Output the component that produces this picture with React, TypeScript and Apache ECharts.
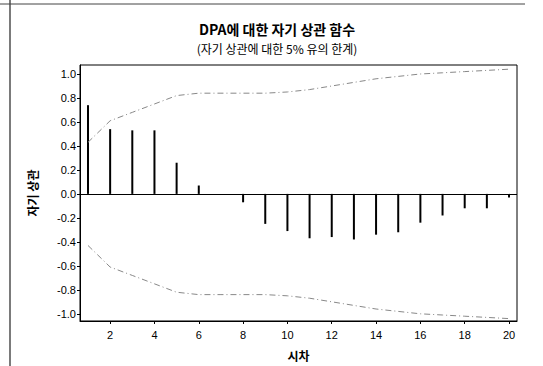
import React, { useEffect, useRef } from "react";
import * as echarts from "echarts";

const lags = [1, 2, 3, 4, 5, 6, 7, 8, 9, 10, 11, 12, 13, 14, 15, 16, 17, 18, 19, 20];
const acf = [0.74, 0.54, 0.53, 0.53, 0.26, 0.07, 0.0, -0.07, -0.25, -0.31, -0.37, -0.36, -0.38, -0.34, -0.32, -0.24, -0.18, -0.12, -0.12, -0.03];
const upperLimit = [0.43, 0.61, 0.68, 0.75, 0.82, 0.84, 0.84, 0.84, 0.84, 0.85, 0.87, 0.9, 0.93, 0.96, 0.98, 1.0, 1.01, 1.02, 1.03, 1.04];
const lowerLimit = [-0.43, -0.61, -0.68, -0.75, -0.82, -0.84, -0.84, -0.84, -0.84, -0.85, -0.87, -0.9, -0.93, -0.96, -0.98, -1.0, -1.01, -1.02, -1.03, -1.04];
const xTicks = [2, 4, 6, 8, 10, 12, 14, 16, 18, 20];
const yTicks = [-1.0, -0.8, -0.6, -0.4, -0.2, 0.0, 0.2, 0.4, 0.6, 0.8, 1.0];

const titleText = "DPA에 대한 자기 상관 함수";
const subTitleText = "(자기 상관에 대한 5% 유의 한계)";
const yName = "자기 상관";
const xName = "시차";

const numFont = "'Liberation Sans', Arial, sans-serif";
const krFont = "'Noto Sans CJK KR', 'Noto Sans', sans-serif";

export default function App() {
  const ref = useRef<HTMLDivElement>(null);
  useEffect(() => {
    if (!ref.current) return;
    const chart = echarts.init(ref.current, null, { renderer: "svg" });
    chart.setOption({
      animation: false,
      backgroundColor: "#ffffff",
      grid: {
        left: 80,
        right: 26,
        top: 65,
        bottom: 43,
        show: true,
        borderColor: "#000",
        borderWidth: 1,
        backgroundColor: "transparent",
      },
      graphic: [
        { type: "line", shape: { x1: 10, y1: 0, x2: 10, y2: 366 }, style: { stroke: "#222", lineWidth: 1.2 } },
        { type: "line", shape: { x1: 0, y1: 4, x2: 525, y2: 4 }, style: { stroke: "#444", lineWidth: 1 } },
        {
          type: "text",
          x: 277,
          y: 29,
          style: {
            text: titleText,
            fontFamily: krFont,
            fontWeight: "bold",
            fontSize: 14,
            fill: "#000",
            textAlign: "center",
            textVerticalAlign: "middle",
          },
        },
        {
          type: "text",
          x: 277,
          y: 48,
          style: {
            text: subTitleText,
            fontFamily: krFont,
            fontSize: 12,
            fill: "#000",
            textAlign: "center",
            textVerticalAlign: "middle",
          },
        },
      ],
      xAxis: {
        type: "value",
        min: 0.64,
        max: 20.36,
        name: xName,
        nameLocation: "middle",
        nameGap: 28,
        nameTextStyle: { fontFamily: krFont, fontWeight: "bold", fontSize: 12, color: "#000" },
        axisLine: { show: true, onZero: false, lineStyle: { color: "#000", width: 1 } },
        axisTick: { show: true, customValues: xTicks, length: 3, inside: false, lineStyle: { color: "#000" } },
        axisLabel: {
          customValues: xTicks,
          color: "#000",
          fontFamily: numFont,
          fontSize: 11,
          margin: 9,
        },
        splitLine: { show: false },
      },
      yAxis: {
        type: "value",
        min: -1.06,
        max: 1.075,
        name: yName,
        nameLocation: "middle",
        nameGap: 42,
        nameRotate: 90,
        nameTextStyle: { fontFamily: krFont, fontWeight: "bold", fontSize: 12, color: "#000" },
        axisLine: { show: true, onZero: false, lineStyle: { color: "#000", width: 1 } },
        axisTick: { show: true, customValues: yTicks, length: 3, inside: false, lineStyle: { color: "#000" } },
        axisLabel: {
          customValues: yTicks,
          color: "#000",
          fontFamily: numFont,
          fontSize: 11,
          margin: 4,
          formatter: (v: number) => v.toFixed(1),
        },
        splitLine: { show: false },
      },
      series: [
        {
          type: "bar",
          data: lags.map((l, i) => [l, acf[i]]),
          barWidth: 2,
          itemStyle: { color: "#000" },
          silent: true,
          markLine: {
            silent: true,
            symbol: "none",
            label: { show: false },
            lineStyle: { color: "#000", width: 1, type: "solid" },
            data: [{ yAxis: 0 }],
          },
        },
        {
          type: "line",
          data: lags.map((l, i) => [l, upperLimit[i]]),
          symbol: "none",
          silent: true,
          lineStyle: { color: "#888", width: 1, type: [6, 3, 1, 3] },
        },
        {
          type: "line",
          data: lags.map((l, i) => [l, lowerLimit[i]]),
          symbol: "none",
          silent: true,
          lineStyle: { color: "#888", width: 1, type: [6, 3, 1, 3] },
        },
      ],
    });
    return () => chart.dispose();
  }, []);
  return (
    <div
      ref={ref}
      style={{ position: "fixed", left: 0, top: 0, width: 543, height: 366, background: "#fff" }}
    />
  );
}
